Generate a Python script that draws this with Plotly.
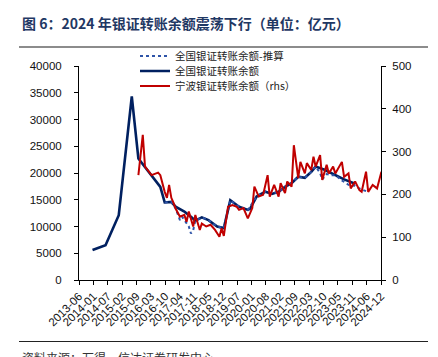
import plotly.graph_objects as go
import pandas as pd
from datetime import datetime, timedelta

# ---------------- data ----------------
title_text = "图 6：2024 年银证转账余额震荡下行（单位：亿元）"
source_text = "资料来源：万得，信达证券研发中心"

name_est = "全国银证转账余额-推算"
name_nat = "全国银证转账余额"
name_nb = "宁波银证转账余额（rhs）"

nat_dates = ["2013-12", "2014-06", "2014-12", "2015-06", "2015-09", "2016-03", "2016-07",
             "2016-09", "2016-12", "2017-02", "2017-06", "2017-09", "2017-11", "2018-02",
             "2018-05", "2018-09", "2018-12", "2019-03", "2019-07", "2019-11", "2019-12",
             "2020-03", "2020-07", "2020-10", "2021-01", "2021-04", "2021-07", "2021-10",
             "2022-01", "2022-04", "2022-06", "2022-10", "2023-03", "2023-07", "2023-12"]
nat_vals = [5600, 6500, 12100, 34300, 22700, 19600, 17400,
            14500, 14600, 13700, 12800, 11800, 11100, 11700,
            11200, 10000, 9700, 14900, 13700, 13100, 13300,
            15600, 16500, 16100, 16500, 17400, 18100, 19300,
            19100, 20200, 21200, 20600, 19600, 18800, 18000]

est_dates = ["2016-09", "2016-12", "2017-02", "2017-04", "2017-05", "2017-08", "2017-09",
             "2017-10", "2017-11", "2018-02", "2018-05", "2018-09", "2018-12", "2019-03",
             "2019-07", "2019-11", "2020-03", "2020-07", "2020-10", "2021-01", "2021-04",
             "2021-07", "2021-10", "2022-01", "2022-04", "2022-06", "2022-08", "2022-09",
             "2022-11", "2023-01", "2023-03", "2023-06", "2023-09", "2023-12", "2024-02",
             "2024-05"]
est_vals = [14500, 14600, 13400, 11200, 11800, 10000, 8700,
            9300, 11100, 11700, 11200, 10000, 9700, 14900,
            13700, 13100, 15600, 16500, 16100, 16500, 17400,
            18100, 19300, 19100, 20200, 21200, 20000, 18800,
            19800, 19600, 19600, 18600, 17800, 17600, 17100,
            16600]

nb_dates = ["2015-09", "2015-11", "2015-12",
            "2016-03", "2016-06", "2016-07", "2016-09", "2016-10", "2016-11", "2016-12",
            "2017-01", "2017-02", "2017-04", "2017-06", "2017-07", "2017-08", "2017-10", "2017-11",
            "2018-01", "2018-02", "2018-04", "2018-06", "2018-08", "2018-10", "2018-11", "2018-12",
            "2019-02", "2019-04", "2019-06", "2019-07", "2019-09", "2019-11",
            "2020-01", "2020-02", "2020-04", "2020-06", "2020-08", "2020-09", "2020-11",
            "2021-01", "2021-02", "2021-04", "2021-05", "2021-07", "2021-08", "2021-10", "2021-11",
            "2022-01", "2022-02", "2022-04", "2022-05", "2022-06", "2022-08", "2022-09", "2022-11", "2022-12",
            "2023-02", "2023-03", "2023-06", "2023-07", "2023-09", "2023-10", "2023-12",
            "2024-02", "2024-03", "2024-05", "2024-06", "2024-08", "2024-10", "2024-12"]
nb_vals = [245, 339, 265,
           245, 251, 245, 206, 192, 222, 192,
           180, 167, 148, 152, 136, 160, 125, 152,
           117, 132, 125, 129, 117, 101, 121, 103,
           171, 175, 171, 164, 168, 144,
           168, 218, 195, 199, 245, 195, 222,
           195, 226, 203, 230, 218, 315, 238, 276,
           249, 273, 257, 288, 265, 292, 234, 269, 249,
           265, 249, 276, 241, 249, 214, 230,
           210, 206, 253, 206, 222, 214, 253]

tick_labels = ["2013-06", "2014-01", "2014-07", "2015-02", "2015-09", "2016-03", "2016-10",
               "2017-04", "2017-11", "2018-05", "2018-12", "2019-07", "2020-01", "2020-08",
               "2021-02", "2021-09", "2022-03", "2022-10", "2023-05", "2023-11", "2024-06",
               "2024-12"]

# ---------------- helpers ----------------
def month_end(lst):
    return [(pd.Timestamp(s + "-01") + pd.offsets.MonthEnd(0)) for s in lst]

axis_start = datetime(2013, 6, 26)
tick_vals = [axis_start + timedelta(days=200 * k) for k in range(len(tick_labels))]

NAVY = "#002060"
DOTBLUE = "#2E54A8"
RED = "#C00000"
FONT = "Liberation Sans, Arial, sans-serif"
CJK = "Noto Sans CJK SC, sans-serif"

fig = go.Figure()
fig.add_trace(go.Scatter(x=month_end(nat_dates), y=nat_vals, mode="lines", name=name_nat,
                         line=dict(color=NAVY, width=2.6), legend="legend2"))
fig.add_trace(go.Scatter(x=month_end(est_dates), y=est_vals, mode="lines", name=name_est,
                         line=dict(color=DOTBLUE, width=2, dash="dot"), legend="legend"))
fig.add_trace(go.Scatter(x=month_end(nb_dates), y=nb_vals, mode="lines", name=name_nb,
                         line=dict(color=RED, width=2), yaxis="y2", legend="legend3"))

# plot area: x 79..381, y 66..280 in a 438x357 page
W, H = 438, 357
L, R, T, B = 79, 381, 66, 280
def px(xp):
    return (xp - L) / (R - L)
def py(yp):
    return (B - yp) / (B - T)

axis_common = dict(showline=True, linecolor="black", linewidth=1,
                   ticks="outside", ticklen=4, tickcolor="black",
                   showgrid=False, zeroline=False, automargin=False)

def leg(ycenter):
    return dict(x=px(135), y=py(ycenter), xanchor="left", yanchor="middle",
                bgcolor="rgba(0,0,0,0)", font=dict(family=CJK, size=10.5, color="#222"),
                itemwidth=30)

fig.update_layout(
    width=W, height=H,
    margin=dict(l=L, r=W - R, t=T, b=H - B, pad=0, autoexpand=False),
    paper_bgcolor="white", plot_bgcolor="white",
    showlegend=True, hovermode=False,
    legend=leg(56), legend2=leg(71), legend3=leg(86),
    xaxis=dict(type="date", range=[tick_vals[0], tick_vals[-1]],
               tickmode="array", tickvals=tick_vals, ticktext=tick_labels,
               tickangle=-45, tickfont=dict(family=FONT, size=11.5, color="#111"),
               **axis_common),
    yaxis=dict(range=[0, 40000], dtick=5000, tick0=0, tickformat="d",
               tickfont=dict(family=FONT, size=11.5, color="#111"),
               ticklabelstandoff=10, **axis_common),
    yaxis2=dict(range=[0, 500], dtick=100, tick0=0, tickformat="d",
                overlaying="y", side="right",
                tickfont=dict(family=FONT, size=11.5, color="#111"),
                ticklabelstandoff=4, **axis_common),
)

# title, rules and source
fig.add_annotation(text=title_text, xref="paper", yref="paper",
                   x=px(20), y=py(23), xanchor="left", yanchor="middle", showarrow=False,
                   font=dict(family=CJK, size=14, color="#1F3864", weight="bold"))
fig.add_shape(type="line", xref="paper", yref="paper", x0=px(19), x1=px(428),
              y0=py(47), y1=py(47), line=dict(color="#8C8C8C", width=2))
fig.add_shape(type="line", xref="paper", yref="paper", x0=px(19), x1=px(428),
              y0=py(341.5), y1=py(341.5), line=dict(color="#222", width=1))
fig.add_annotation(text=source_text, xref="paper", yref="paper",
                   x=px(20), y=py(346.5), xanchor="left", yanchor="top", showarrow=False,
                   font=dict(family=CJK, size=12, color="#333"))

fig.write_html("out.html", config={"displayModeBar": False},
               post_script="document.body.style.margin='0';document.body.style.overflow='hidden';")
